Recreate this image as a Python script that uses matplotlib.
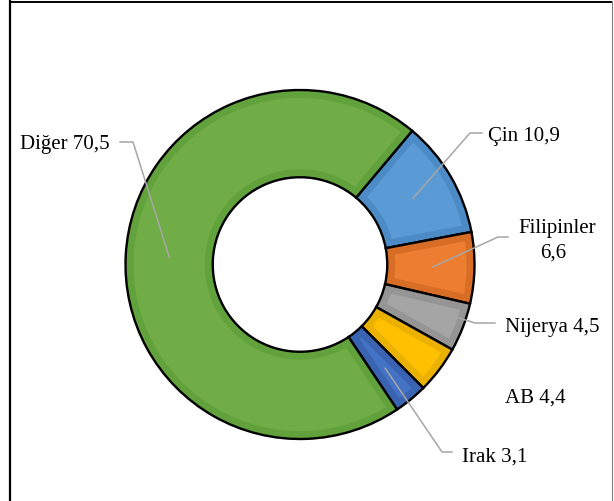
import numpy as np
import matplotlib
matplotlib.use("Agg")
import matplotlib.pyplot as plt
from matplotlib.patches import Wedge

# -----------------------------
# Données
# -----------------------------
labels = ["Çin", "Filipinler", "Nijerya", "AB", "Irak", "Diğer"]
values = [10.9, 6.6, 4.5, 4.4, 3.1, 70.5]
value_text = ["10,9", "6,6", "4,5", "4,4", "3,1", "70,5"]

colors = ["#5B9BD5", "#ED7D31", "#A5A5A5", "#FFC000", "#4472C4", "#70AD47"]
bands = ["#4C8BC6", "#D86E25", "#959595", "#EAB100", "#3A64B2", "#62A23C"]

plt.rcParams['font.family'] = ['Liberation Serif', 'DejaVu Serif']

W, H = 614, 501
fig = plt.figure(figsize=(W / 100, H / 100), dpi=100)
ax = fig.add_axes([0, 0, 1, 1])

def px(x, y):
    # coordonnées image (y vers le bas) -> données
    return x, H - y

cx, cy = px(300, 264.5)
R = 174.5

wedges, _ = ax.pie(values, startangle=50, counterclock=False, colors=colors,
                   radius=R, center=(cx, cy),
                   wedgeprops=dict(width=R / 2, edgecolor='none'))

# effet de bordure intérieure + contour noir
for w, bc in zip(wedges, bands):
    band = Wedge(w.center, w.r, w.theta1, w.theta2, width=w.width,
                 facecolor='none', edgecolor=bc, linewidth=11.5)
    ax.add_patch(band)
    band.set_clip_path(w)
    ax.add_patch(Wedge(w.center, w.r, w.theta1, w.theta2, width=w.width,
                       facecolor='none', edgecolor='black', linewidth=1.7))

ax.set_xlim(0, W)
ax.set_ylim(0, H)
ax.set_aspect('equal')
ax.axis('off')

# -----------------------------
# Étiquettes et lignes de rappel
# -----------------------------
text_pos = [(488, 141), (557, 233), (505, 332), (505, 403), (462, 462), (20, 149)]
leaders = {
    0: (0.75, 0, [(470, 133), (482, 133)]),
    1: (0.76, 0, [(498, 237), (508, 237)]),
    2: (0.95, 2.5, [(475, 323), (495, 323)]),
    4: (0.77, 0, [(442, 452), (452, 452)]),
    5: (0.75, 0, [(133, 142), (120, 142)]),
}

for i, w in enumerate(wedges):
    if i in leaders:
        k, dang, pts = leaders[i]
        mid = np.deg2rad((w.theta1 + w.theta2) / 2 + dang)
        xs = [cx + k * R * np.cos(mid)] + [px(*p)[0] for p in pts]
        ys = [cy + k * R * np.sin(mid)] + [px(*p)[1] for p in pts]
        ax.plot(xs, ys, color='#A6A6A6', linewidth=1.1, zorder=5)

    tx, ty = px(*text_pos[i])
    if labels[i] == "Filipinler":
        ax.text(tx, ty, labels[i], fontsize=15, ha='center', va='baseline')
        ax.text(tx - 4, ty - 25, value_text[i], fontsize=15, ha='center', va='baseline')
    else:
        ax.text(tx, ty, f"{labels[i]} {value_text[i]}", fontsize=15,
                ha='left', va='baseline')

# cadre
ax.plot([10, 10], [0, H - 1], color='black', linewidth=1.6, clip_on=False)
ax.plot([10, 612], [H - 1.5, H - 1.5], color='black', linewidth=1.4, clip_on=False)
ax.plot([612, 612], [0, H - 1], color='#808080', linewidth=0.8, clip_on=False)

fig.savefig("out.png", dpi=100)
